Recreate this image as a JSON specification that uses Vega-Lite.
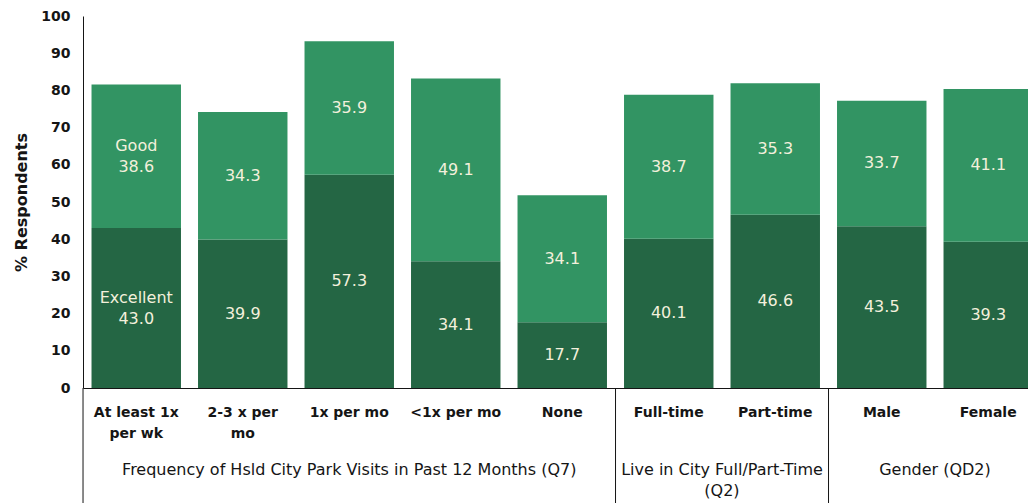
{
  "$schema": "https://vega.github.io/schema/vega-lite/v6.json",
  "width": 945,
  "height": 372,
  "autosize": {"type": "none"},
  "padding": {"left": 83, "top": 16, "right": 0, "bottom": 115},
  "config": {
    "view": {"stroke": null},
    "font": "DejaVu Sans",
    "axis": {"labelOverlap": false},
    "axisQuantitative": {"labelOverlap": false},
    "axisY": {
      "grid": false,
      "ticks": false,
      "tickSize": 0,
      "labelOverlap": false,
      "labelSeparation": 0,
      "labelFontSize": 14,
      "labelFontWeight": "bold",
      "labelColor": "#151515",
      "labelPadding": 13,
      "domainColor": "#151515",
      "titleFontSize": 16,
      "titleFontWeight": "bold",
      "titleColor": "#151515",
      "titlePadding": 11
    }
  },
  "datasets": {
    "bars": [
      {"cat": "At least 1x per wk", "rating": "Excellent", "value": 43.0},
      {"cat": "At least 1x per wk", "rating": "Good", "value": 38.6},
      {"cat": "2-3 x per mo", "rating": "Excellent", "value": 39.9},
      {"cat": "2-3 x per mo", "rating": "Good", "value": 34.3},
      {"cat": "1x per mo", "rating": "Excellent", "value": 57.3},
      {"cat": "1x per mo", "rating": "Good", "value": 35.9},
      {"cat": "<1x per mo", "rating": "Excellent", "value": 34.1},
      {"cat": "<1x per mo", "rating": "Good", "value": 49.1},
      {"cat": "None", "rating": "Excellent", "value": 17.7},
      {"cat": "None", "rating": "Good", "value": 34.1},
      {"cat": "Full-time", "rating": "Excellent", "value": 40.1},
      {"cat": "Full-time", "rating": "Good", "value": 38.7},
      {"cat": "Part-time", "rating": "Excellent", "value": 46.6},
      {"cat": "Part-time", "rating": "Good", "value": 35.3},
      {"cat": "Male", "rating": "Excellent", "value": 43.5},
      {"cat": "Male", "rating": "Good", "value": 33.7},
      {"cat": "Female", "rating": "Excellent", "value": 39.3},
      {"cat": "Female", "rating": "Good", "value": 41.1}
    ],
    "seps": [
      {"cat": "At least 1x per wk"},
      {"cat": "Full-time"},
      {"cat": "Male"}
    ],
    "group1": [
      {"cat": "1x per mo", "label": "Frequency of Hsld City Park Visits in Past 12 Months (Q7)"}
    ],
    "group2": [
      {"cat": "Full-time", "label": "Live in City Full/Part-Time\n(Q2)"},
      {"cat": "Male", "label": "Gender (QD2)"}
    ]
  },
  "layer": [
    {
      "data": {"name": "bars"},
      "mark": {"type": "bar"},
      "encoding": {
        "x": {
          "field": "cat",
          "type": "nominal",
          "scale": {
            "domain": ["At least 1x per wk", "2-3 x per mo", "1x per mo", "<1x per mo", "None", "Full-time", "Part-time", "Male", "Female"],
            "range": [0, 958.5],
            "paddingInner": 0.16,
            "paddingOuter": 0.08
          },
          "axis": {
            "title": null,
            "labelAngle": 0,
            "labelFontSize": 14,
            "labelFontWeight": "bold",
            "labelColor": "#151515",
            "labelPadding": 17,
            "labelLineHeight": 21,
            "labelOverlap": false,
            "labelLimit": 0,
            "ticks": false,
            "tickSize": 0,
            "domainColor": "#151515",
            "labelExpr": "datum.label == 'At least 1x per wk' ? ['At least 1x', 'per wk'] : datum.label == '2-3 x per mo' ? ['2-3 x per', 'mo'] : datum.label"
          }
        },
        "y": {
          "field": "value",
          "type": "quantitative",
          "stack": "zero",
          "scale": {"domain": [0, 100], "nice": false, "zero": false},
          "axis": {"title": "% Respondents", "values": [0, 10, 20, 30, 40, 50, 60, 70, 80, 90, 100], "labelOverlap": false, "labelSeparation": 0}
        },
        "color": {
          "field": "rating",
          "type": "nominal",
          "scale": {"domain": ["Excellent", "Good"], "range": ["#246644", "#329463"]},
          "legend": null
        },
        "order": {"field": "rating", "sort": "ascending"}
      }
    },
    {
      "data": {"name": "bars"},
      "transform": [
        {"stack": "value", "groupby": ["cat"], "sort": [{"field": "rating", "order": "ascending"}], "as": ["y0", "y1"]},
        {"calculate": "(datum.y0 + datum.y1) / 2", "as": "mid"},
        {"filter": "datum.cat !== 'At least 1x per wk'"},
        {"calculate": "format(datum.value, '.1f')", "as": "lbl"}
      ],
      "mark": {"type": "text", "fontSize": 16, "color": "#f3f0dc", "baseline": "middle", "align": "center"},
      "encoding": {
        "x": {"field": "cat", "type": "nominal", "axis": {"title": null}},
        "y": {"field": "mid", "type": "quantitative", "axis": {"title": "% Respondents", "values": [0, 10, 20, 30, 40, 50, 60, 70, 80, 90, 100], "labelOverlap": false, "labelSeparation": 0}},
        "text": {"field": "lbl"}
      }
    },
    {
      "data": {"name": "bars"},
      "transform": [
        {"stack": "value", "groupby": ["cat"], "sort": [{"field": "rating", "order": "ascending"}], "as": ["y0", "y1"]},
        {"calculate": "(datum.y0 + datum.y1) / 2", "as": "mid"},
        {"filter": "datum.cat === 'At least 1x per wk'"},
        {"calculate": "[datum.rating, format(datum.value, '.1f')]", "as": "lbl"}
      ],
      "mark": {"type": "text", "fontSize": 16, "color": "#f3f0dc", "baseline": "middle", "align": "center", "lineHeight": 21, "dy": -10.5},
      "encoding": {
        "x": {"field": "cat", "type": "nominal", "axis": {"title": null}},
        "y": {"field": "mid", "type": "quantitative", "axis": {"title": "% Respondents", "values": [0, 10, 20, 30, 40, 50, 60, 70, 80, 90, 100], "labelOverlap": false, "labelSeparation": 0}},
        "text": {"field": "lbl"}
      }
    },
    {
      "data": {"name": "seps"},
      "mark": {"type": "rule", "color": "#151515", "strokeWidth": 1},
      "encoding": {
        "x": {"field": "cat", "type": "nominal", "bandPosition": -0.095, "axis": {"title": null}},
        "y": {"datum": 0, "axis": {"title": "% Respondents", "values": [0, 10, 20, 30, 40, 50, 60, 70, 80, 90, 100], "labelOverlap": false, "labelSeparation": 0}},
        "y2": {"datum": -31.5}
      }
    },
    {
      "data": {"name": "group1"},
      "mark": {"type": "text", "fontSize": 16, "color": "#151515", "baseline": "top", "align": "center"},
      "encoding": {
        "x": {"field": "cat", "type": "nominal", "bandPosition": 0.5, "axis": {"title": null}},
        "y": {"datum": -19.9, "axis": {"title": "% Respondents", "values": [0, 10, 20, 30, 40, 50, 60, 70, 80, 90, 100], "labelOverlap": false, "labelSeparation": 0}},
        "text": {"field": "label"}
      }
    },
    {
      "data": {"name": "group2"},
      "mark": {"type": "text", "fontSize": 16, "color": "#151515", "baseline": "top", "align": "center", "lineBreak": "\n", "lineHeight": 21},
      "encoding": {
        "x": {"field": "cat", "type": "nominal", "bandPosition": 1.095, "axis": {"title": null}},
        "y": {"datum": -19.9, "axis": {"title": "% Respondents", "values": [0, 10, 20, 30, 40, 50, 60, 70, 80, 90, 100], "labelOverlap": false, "labelSeparation": 0}},
        "text": {"field": "label"}
      }
    }
  ]
}
